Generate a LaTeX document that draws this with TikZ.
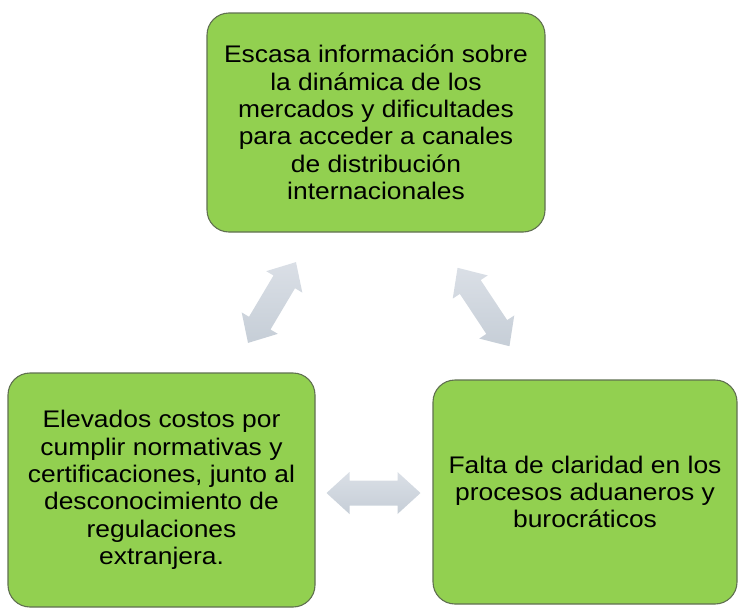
\documentclass[tikz,border=0pt]{standalone}
\usepackage{fontspec}
\setmainfont{Liberation Sans}[FakeStretch=1.1]
\definecolor{boxgreen}{RGB}{146,208,80}
\definecolor{boxline}{RGB}{96,112,80}
\definecolor{arrowtop}{RGB}{218,223,230}
\definecolor{arrowbot}{RGB}{198,206,215}
\tikzset{
  cause/.style={draw=boxline, line width=1.1pt, fill=boxgreen, rounded corners=22pt,
    align=center, inner sep=0pt, font=\fontsize{24}{27.3}\selectfont},
  dblarrow/.pic={
    \shade[top color=arrowtop, bottom color=arrowbot]
      (-47,0) -- (-24,21) -- (-24,12.5) -- (24,12.5) -- (24,21) -- (47,0)
      -- (24,-21) -- (24,-12.5) -- (-24,-12.5) -- (-24,-21) -- cycle;
  }
}
\begin{document}
\begin{tikzpicture}[x=1pt,y=-1pt]
\path[use as bounding box] (0,0) rectangle (738,608);
\node[cause, minimum width=338pt, minimum height=219pt] (top) at (376,122.5)
  {Escasa información sobre\\la dinámica de los\\mercados y dificultades\\para acceder a canales\\de distribución\\internacionales};
\node[cause, minimum width=307pt, minimum height=234pt] (left) at (161.5,490)
  {Elevados costos por\\cumplir normativas y\\certificaciones, junto al\\desconocimiento de\\regulaciones\\extranjera.};
\node[cause, minimum width=304pt, minimum height=224pt] (right) at (585,492)
  {Falta de claridad en los\\procesos aduaneros y\\burocráticos};
\coordinate (tl) at (272,302.5);
\coordinate (tr) at (483.5,307);
\coordinate (lr) at (373.5,493);
\pic[rotate=59.3] at (tl) {dblarrow};
\pic[rotate=-56.5] at (tr) {dblarrow};
\pic at (lr) {dblarrow};
\end{tikzpicture}
\end{document}
